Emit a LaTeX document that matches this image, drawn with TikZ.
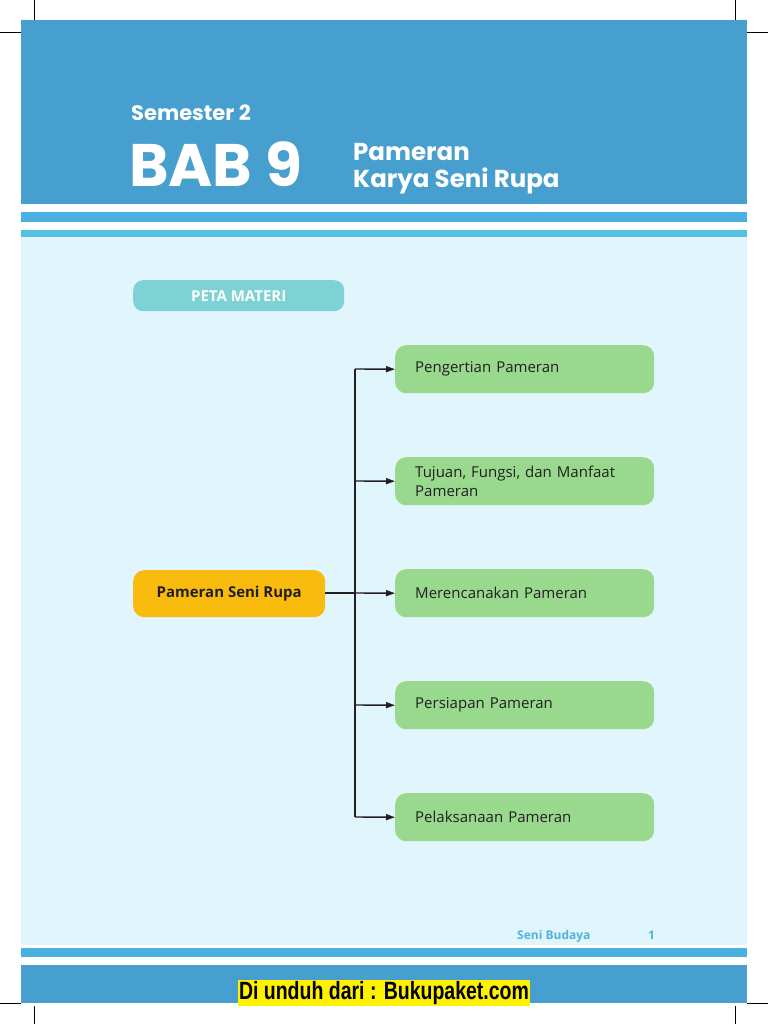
\documentclass[tikz,border=0pt]{standalone}
\usepackage{fontspec}
\setmainfont{Open Sans}
\newfontfamily\titlefont{Poppins}
\newfontfamily\arialfont{Liberation Sans}
\usetikzlibrary{arrows.meta}
\definecolor{headblue}{HTML}{469FCF}
\definecolor{stripeA}{HTML}{4AB0E2}
\definecolor{stripeB}{HTML}{56C1E5}
\definecolor{pagebg}{HTML}{E1F5FD}
\definecolor{tealbox}{HTML}{7DD3D3}
\definecolor{orangebox}{HTML}{F9BC0E}
\definecolor{greenbox}{HTML}{98D98E}
\definecolor{darktext}{HTML}{231F20}
\definecolor{footblue}{HTML}{4FB2E0}
\begin{document}
\begin{tikzpicture}[x=1pt,y=-1pt,
  greenstep/.style={draw=none,fill=greenbox,rounded corners=11pt,anchor=north west,
    text width=219pt,inner xsep=20pt,inner ysep=0pt,minimum height=48pt,align=left,
    font=\fontsize{15}{19.5}\selectfont,text=darktext},
  conn/.style={line width=1.4pt,draw=darktext},
  arr/.style={conn,-{Triangle[length=9pt,width=6pt]}}]
\useasboundingbox (0,0) rectangle (768,1024);
\fill[white] (0,0) rectangle (768,1024);
% crop marks
\draw[line width=0.8pt] (34,0) -- (34,29) (735,0) -- (735,29)
  (0,32) -- (21,32) (747,32) -- (768,32)
  (0,1003) -- (21,1003) (747,1003) -- (768,1003)
  (34,1006) -- (34,1024) (735,1006) -- (735,1024);
% header
\fill[headblue] (21,20) rectangle (747,204);
\fill[stripeA] (21,212) rectangle (747,222);
\fill[stripeB] (21,230) rectangle (747,237);
\fill[pagebg] (21,237) rectangle (747,945);
\fill[stripeA] (21,948) rectangle (747,957);
\fill[headblue] (21,965) rectangle (747,1003);
% title texts
\node[anchor=base west,inner sep=0pt,text=white,font=\titlefont\bfseries\fontsize{21}{21}\selectfont] (sem) at (131,121) {Semester 2};
\node[anchor=base west,inner sep=0pt,text=white,font=\titlefont\bfseries\fontsize{60}{60}\selectfont] (bab) at (129,187) {BAB 9};
\node[anchor=base west,inner sep=0pt,text=white,font=\titlefont\bfseries\fontsize{24.5}{24.5}\selectfont] (t1) at (353,161) {Pameran};
\node[anchor=base west,inner sep=0pt,text=white,font=\titlefont\bfseries\fontsize{24.5}{24.5}\selectfont] (t2) at (353,188) {Karya Seni Rupa};
% peta materi
\node[fill=tealbox,rounded corners=10pt,anchor=north west,minimum width=211pt,minimum height=31pt,inner sep=0pt,
  text=white,font=\bfseries\fontsize{15}{15}\selectfont] (peta) at (133,280) {PETA MATERI};
% center
\node[fill=orangebox,rounded corners=11pt,anchor=north west,minimum width=192pt,minimum height=47pt,inner sep=0pt,
  text=darktext,font=\bfseries\fontsize{15}{15}\selectfont] (center) at (133,570) {Pameran Seni Rupa};
% green boxes
\node[greenstep] (g1) at (395,345) {Pengertian Pameran};
\node[greenstep] (g2) at (395,457) {Tujuan, Fungsi, dan Manfaat\\Pameran};
\node[greenstep] (g3) at (395,569) {Merencanakan Pameran};
\node[greenstep] (g4) at (395,681) {Persiapan Pameran};
\node[greenstep] (g5) at (395,793) {Pelaksanaan Pameran};
% connectors
\coordinate (trunkT) at (355,369);
\coordinate (trunkB) at (355,817);
\coordinate (trunkM) at (355,593);
\draw[conn] (trunkT) -- (trunkB);
\draw[conn] (center.east |- trunkM) -- (trunkM);
\draw[arr] (trunkT) -- (g1.west);
\draw[arr] (355,481) -- (g2.west);
\draw[arr] (trunkM) -- (g3.west);
\draw[arr] (355,705) -- (g4.west);
\draw[arr] (trunkB) -- (g5.west);
% footer
\node[anchor=base west,inner sep=0pt,text=footblue,font=\bfseries\fontsize{12}{12}\selectfont] (sb) at (517,939) {Seni Budaya};
\node[anchor=base west,inner sep=0pt,text=footblue,font=\bfseries\fontsize{12}{12}\selectfont] (pg) at (648,939) {1};
\node[fill=yellow,inner xsep=1pt,inner ysep=1.5pt,anchor=center,text=black] (dl) at (384,993)
  {\scalebox{0.78}[1]{\arialfont\bfseries\fontsize{25}{25}\selectfont Di unduh dari : Bukupaket.com}};
\end{tikzpicture}
\end{document}
